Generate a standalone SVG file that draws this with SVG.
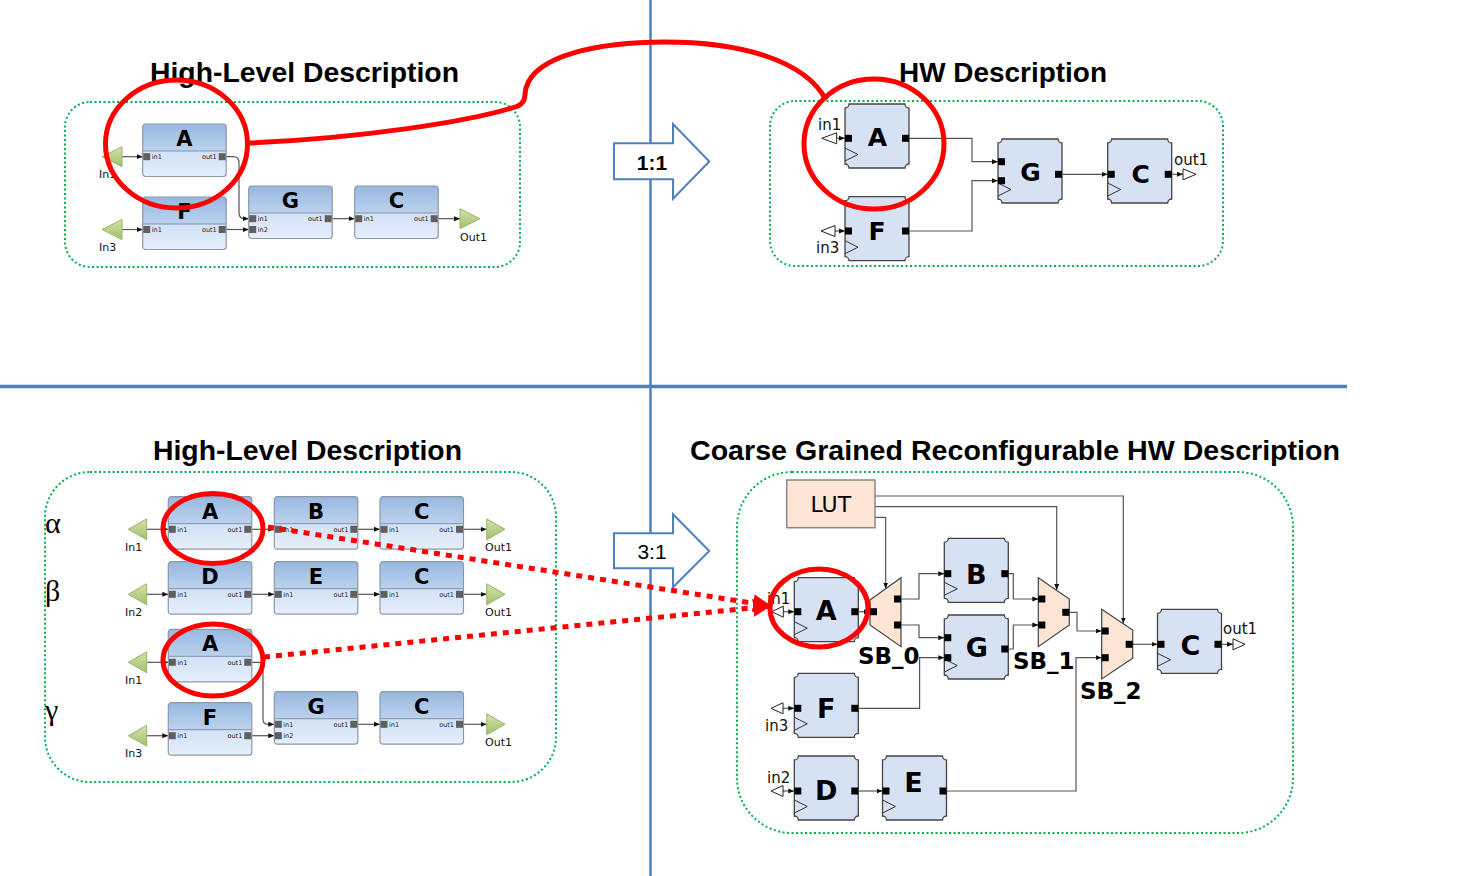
<svg xmlns="http://www.w3.org/2000/svg" width="1458" height="876" viewBox="0 0 1458 876">
<defs>
<linearGradient id="sbHead" x1="0" y1="0" x2="0" y2="1"><stop offset="0" stop-color="#98b8df"/><stop offset="1" stop-color="#bcd2ee"/></linearGradient>
<linearGradient id="sbBody" x1="0" y1="0" x2="0" y2="1"><stop offset="0" stop-color="#bcd3f0"/><stop offset="1" stop-color="#e6effb"/></linearGradient>
<linearGradient id="tri" x1="0" y1="0" x2="0" y2="1"><stop offset="0" stop-color="#d3e3ab"/><stop offset="1" stop-color="#a3bf6b"/></linearGradient>
<marker id="ar" markerWidth="6" markerHeight="6" refX="6" refY="3" orient="auto" markerUnits="userSpaceOnUse"><path d="M0,0.5 L6,3 L0,5.5 Z" fill="#111"/></marker>
<marker id="rar" markerWidth="20" markerHeight="18" refX="18" refY="9" orient="auto" markerUnits="userSpaceOnUse"><path d="M0,0 L18,9 L0,18 Z" fill="#ff0000"/></marker>
<g id="simBody">
<rect width="83.5" height="52.5" rx="3" fill="url(#sbBody)"/>
<path d="M0,27 V3 Q0,0 3,0 H80.5 Q83.5,0 83.5,3 V27 Z" fill="url(#sbHead)"/>
<line x1="0" y1="27" x2="83.5" y2="27" stroke="#7f93ad" stroke-width="1"/>
<rect width="83.5" height="52.5" rx="3" fill="none" stroke="#8c99a8" stroke-width="1.2"/>
</g>
<g id="hwBody">
<path d="M4,0 H60 A4,4 0 0 0 64,4 V60 A4,4 0 0 0 60,64 H4 A4,4 0 0 0 0,60 V4 A4,4 0 0 0 4,0 Z" fill="#d6e2f4" stroke="#444" stroke-width="1.3"/>
<path d="M0,44 L13,50.5 L0,57" fill="none" stroke="#333" stroke-width="1"/>
</g>
</defs>
<style>
.title{font-family:"Liberation Sans",Arial,sans-serif;font-weight:bold;font-size:27px;fill:#000}
.green{fill:none;stroke:#00b050;stroke-width:2;stroke-dasharray:2 2.5}
.sep{stroke:#4f81bd;fill:none}
.red{fill:none;stroke:#ff0000;stroke-width:5}
.reddot{fill:none;stroke:#ff0000;stroke-width:5;stroke-dasharray:6 6}
.sl{font-family:"DejaVu Sans",sans-serif;font-weight:bold;font-size:21px;text-anchor:middle;fill:#000}
.pl{font-family:"DejaVu Sans",sans-serif;font-size:6.5px;fill:#222}
.ple{font-family:"DejaVu Sans",sans-serif;font-size:6.5px;fill:#222;text-anchor:end}
.io{font-family:"DejaVu Sans",sans-serif;font-size:11px;fill:#111}
.sp{fill:#5f5f5f}
.w{fill:none;stroke:#555;stroke-width:1.2}
.wa{fill:none;stroke:#555;stroke-width:1.2;marker-end:url(#ar)}
.hp{fill:#000}
.hl{font-family:"DejaVu Sans",sans-serif;font-weight:bold;font-size:27px;text-anchor:middle;fill:#000}
.hl2{font-family:"DejaVu Sans",sans-serif;font-weight:bold;font-size:25px;text-anchor:middle;fill:#000}
.hio{font-family:"DejaVu Sans",sans-serif;font-size:15px;fill:#111}
.htri{fill:#fff;stroke:#222;stroke-width:1}
.mux{fill:#fde5d5;stroke:#444;stroke-width:1.2}
.sbl{font-family:"DejaVu Sans",sans-serif;font-weight:bold;font-size:23px;fill:#000}
.gtri{fill:url(#tri);stroke:#9ab46a;stroke-width:1}
.greek{font-family:"Liberation Serif","DejaVu Serif",serif;font-size:30px;fill:#000}
.arrowbox{fill:#fff;stroke:#4f81bd;stroke-width:2}
.ratio{font-family:"Liberation Sans",Arial,sans-serif;font-size:21px;text-anchor:middle;fill:#000}
</style>

<!-- separators -->
<g id="separators">
<line class="sep" x1="650.5" y1="0" x2="650.5" y2="876" stroke-width="2.5"/>
<line class="sep" x1="0" y1="386.5" x2="1347" y2="386.5" stroke-width="3.5"/>
</g>

<!-- titles -->
<g id="titles">
<text class="title" x="150" y="82" textLength="309" lengthAdjust="spacingAndGlyphs">High-Level Description</text>
<text class="title" x="899" y="82" textLength="208" lengthAdjust="spacingAndGlyphs">HW Description</text>
<text class="title" x="153" y="460" textLength="309" lengthAdjust="spacingAndGlyphs">High-Level Description</text>
<text class="title" x="690" y="460" textLength="650" lengthAdjust="spacingAndGlyphs">Coarse Grained Reconfigurable HW Description</text>
</g>

<!-- green containers -->
<g id="containers">
<rect class="green" x="65" y="102" width="455" height="165" rx="25"/>
<rect class="green" x="770" y="101" width="453" height="165" rx="25"/>
<rect class="green" x="45" y="472" width="511" height="310" rx="45"/>
<rect class="green" x="737" y="472" width="556" height="361" rx="55"/>
</g>

<!-- ratio arrows -->
<g id="arrow-1to1">
<path class="arrowbox" d="M614,143.3 H673 V124 L709.3,161.5 L673,198.7 V179.3 H614 Z"/>
<text class="ratio" x="652" y="170" font-weight="bold">1:1</text>
</g>
<g id="arrow-3to1">
<path class="arrowbox" d="M614,533.3 H673 V514.3 L709.3,551 L673,587.3 V568.3 H614 Z"/>
<text class="ratio" x="652" y="558.5">3:1</text>
</g>

<!-- ===== TOP LEFT ===== -->
<g id="tl-connectors">
<line class="wa" x1="122" y1="156.7" x2="142.7" y2="156.7"/>
<line class="wa" x1="122" y1="229.5" x2="142.7" y2="229.5"/>
<path class="wa" d="M226,156.7 H233 Q239,156.7 239,162.7 V212.7 Q239,218.7 245,218.7 H248.7"/>
<line class="wa" x1="226" y1="229.5" x2="248.7" y2="229.5"/>
<line class="wa" x1="332.2" y1="218.7" x2="354.7" y2="218.7"/>
<line class="wa" x1="438.2" y1="218.7" x2="460" y2="218.7"/>
</g>
<g id="tl-In1"><polygon class="gtri" points="102,156.7 122,146.7 122,166.7"/><text class="io" x="99" y="178">In1</text></g>
<g id="tl-In3"><polygon class="gtri" points="102,229.5 122,219.5 122,239.5"/><text class="io" x="99" y="251">In3</text></g>
<g id="tl-Out1"><polygon class="gtri" points="480,218.7 460,208.7 460,228.7"/><text class="io" x="460" y="241">Out1</text></g>
<g id="tl-A" transform="translate(142.7,124)"><use href="#simBody"/><text class="sl" x="41.75" y="22">A</text>
<rect class="sp" x="0.5" y="29.2" width="7" height="7"/><text class="pl" x="9" y="35">in1</text>
<rect class="sp" x="76" y="29.2" width="7" height="7"/><text class="ple" x="74" y="35">out1</text></g>
<g id="tl-F" transform="translate(142.7,197)"><use href="#simBody"/><text class="sl" x="41.75" y="22">F</text>
<rect class="sp" x="0.5" y="29" width="7" height="7"/><text class="pl" x="9" y="34.8">in1</text>
<rect class="sp" x="76" y="29" width="7" height="7"/><text class="ple" x="74" y="34.8">out1</text></g>
<g id="tl-G" transform="translate(248.7,186)"><use href="#simBody"/><text class="sl" x="41.75" y="22">G</text>
<rect class="sp" x="0.5" y="29.2" width="7" height="7"/><text class="pl" x="9" y="35">in1</text>
<rect class="sp" x="0.5" y="40" width="7" height="7"/><text class="pl" x="9" y="45.8">in2</text>
<rect class="sp" x="76" y="29.2" width="7" height="7"/><text class="ple" x="74" y="35">out1</text></g>
<g id="tl-C" transform="translate(354.7,186)"><use href="#simBody"/><text class="sl" x="41.75" y="22">C</text>
<rect class="sp" x="0.5" y="29.2" width="7" height="7"/><text class="pl" x="9" y="35">in1</text>
<rect class="sp" x="76" y="29.2" width="7" height="7"/><text class="ple" x="74" y="35">out1</text></g>

<!-- ===== TOP RIGHT ===== -->
<g id="tr-connectors">
<line class="wa" x1="836.7" y1="138.3" x2="845" y2="138.3"/>
<line class="wa" x1="835" y1="231" x2="845" y2="231"/>
<path class="wa" d="M909,138.3 H972 V161.7 H998"/>
<path class="wa" d="M909,231 H972 V180.7 H998"/>
<line class="wa" x1="1062" y1="174.3" x2="1107.7" y2="174.3"/>
<line class="wa" x1="1171.7" y1="174.3" x2="1183" y2="174.3"/>
</g>
<g id="tr-in1"><polygon class="htri" points="821.7,138.3 836.7,132.8 836.7,143.8"/><text class="hio" x="818" y="130">in1</text></g>
<g id="tr-in3"><polygon class="htri" points="821,231 835,225.5 835,236.5"/><text class="hio" x="816" y="253">in3</text></g>
<g id="tr-out1"><polygon class="htri" points="1196,174.3 1183,168.8 1183,179.8"/><text class="hio" x="1174" y="165">out1</text></g>
<g id="tr-A" transform="translate(845,104)"><use href="#hwBody"/><text class="hl2" x="32.5" y="42">A</text>
<rect class="hp" y="30.8" width="7" height="7"/><rect class="hp" x="57" y="30.8" width="7" height="7"/></g>
<g id="tr-F" transform="translate(845,196.7)"><use href="#hwBody"/><text class="hl2" x="32" y="43.5">F</text>
<rect class="hp" y="30.8" width="7" height="7"/><rect class="hp" x="57" y="30.8" width="7" height="7"/></g>
<g id="tr-G" transform="translate(998,139)"><use href="#hwBody"/><text class="hl2" x="32.5" y="42">G</text>
<rect class="hp" y="19.2" width="7" height="7"/><rect class="hp" y="38.2" width="7" height="7"/><rect class="hp" x="57" y="31.8" width="7" height="7"/></g>
<g id="tr-C" transform="translate(1107.7,139)"><use href="#hwBody"/><text class="hl2" x="33" y="44">C</text>
<rect class="hp" y="31.8" width="7" height="7"/><rect class="hp" x="57" y="31.8" width="7" height="7"/></g>

<!-- ===== BOTTOM LEFT ===== -->
<g id="bl-greek">
<text class="greek" x="45" y="533">α</text>
<text class="greek" x="45" y="601">β</text>
<text class="greek" x="45" y="720">γ</text>
</g>
<g id="bl-connectors">
<line class="wa" x1="146.7" y1="529.3" x2="168.3" y2="529.3"/>
<line class="wa" x1="252" y1="529.3" x2="274.3" y2="529.3"/>
<line class="wa" x1="357.8" y1="529.3" x2="380" y2="529.3"/>
<line class="wa" x1="463.5" y1="529.3" x2="486.7" y2="529.3"/>
<line class="wa" x1="146.7" y1="594.3" x2="168.3" y2="594.3"/>
<line class="wa" x1="252" y1="594.3" x2="274.3" y2="594.3"/>
<line class="wa" x1="357.8" y1="594.3" x2="380" y2="594.3"/>
<line class="wa" x1="463.5" y1="594.3" x2="486.7" y2="594.3"/>
<line class="wa" x1="146.7" y1="662.3" x2="168.3" y2="662.3"/>
<path class="wa" d="M252,662.3 H258 Q263,662.3 263,667.3 V719.3 Q263,724.3 268,724.3 H274.3"/>
<line class="wa" x1="146.7" y1="735.7" x2="168.3" y2="735.7"/>
<line class="wa" x1="252" y1="735.7" x2="274.3" y2="735.7"/>
<line class="wa" x1="357.8" y1="724.3" x2="380" y2="724.3"/>
<line class="wa" x1="463.5" y1="724.3" x2="486.7" y2="724.3"/>
</g>
<g id="bl-In1a"><polygon class="gtri" points="128.3,529.3 146.7,518.8 146.7,539.8"/><text class="io" x="125" y="551">In1</text></g>
<g id="bl-Out1a"><polygon class="gtri" points="505,529.3 486.7,518.8 486.7,539.8"/><text class="io" x="485" y="551">Out1</text></g>
<g id="bl-In2"><polygon class="gtri" points="128.3,594.3 146.7,583.8 146.7,604.8"/><text class="io" x="125" y="616">In2</text></g>
<g id="bl-Out1b"><polygon class="gtri" points="505,594.3 486.7,583.8 486.7,604.8"/><text class="io" x="485" y="616">Out1</text></g>
<g id="bl-In1c"><polygon class="gtri" points="128.3,662.3 146.7,651.8 146.7,672.8"/><text class="io" x="125" y="684">In1</text></g>
<g id="bl-In3"><polygon class="gtri" points="128.3,735.7 146.7,725.2 146.7,746.2"/><text class="io" x="125" y="757">In3</text></g>
<g id="bl-Out1c"><polygon class="gtri" points="505,724.3 486.7,713.8 486.7,734.8"/><text class="io" x="485" y="746">Out1</text></g>

<g id="bl-A1" transform="translate(168.3,496.7)"><use href="#simBody"/><text class="sl" x="41.75" y="22">A</text>
<rect class="sp" x="0.5" y="29.1" width="7" height="7"/><text class="pl" x="9" y="34.9">in1</text>
<rect class="sp" x="76" y="29.1" width="7" height="7"/><text class="ple" x="74" y="34.9">out1</text></g>
<g id="bl-B" transform="translate(274.3,496.7)"><use href="#simBody"/><text class="sl" x="41.75" y="22">B</text>
<rect class="sp" x="0.5" y="29.1" width="7" height="7"/><text class="pl" x="9" y="34.9">in1</text>
<rect class="sp" x="76" y="29.1" width="7" height="7"/><text class="ple" x="74" y="34.9">out1</text></g>
<g id="bl-C1" transform="translate(380,496.7)"><use href="#simBody"/><text class="sl" x="41.75" y="22">C</text>
<rect class="sp" x="0.5" y="29.1" width="7" height="7"/><text class="pl" x="9" y="34.9">in1</text>
<rect class="sp" x="76" y="29.1" width="7" height="7"/><text class="ple" x="74" y="34.9">out1</text></g>
<g id="bl-D" transform="translate(168.3,561.7)"><use href="#simBody"/><text class="sl" x="41.75" y="22">D</text>
<rect class="sp" x="0.5" y="29.1" width="7" height="7"/><text class="pl" x="9" y="34.9">in1</text>
<rect class="sp" x="76" y="29.1" width="7" height="7"/><text class="ple" x="74" y="34.9">out1</text></g>
<g id="bl-E" transform="translate(274.3,561.7)"><use href="#simBody"/><text class="sl" x="41.75" y="22">E</text>
<rect class="sp" x="0.5" y="29.1" width="7" height="7"/><text class="pl" x="9" y="34.9">in1</text>
<rect class="sp" x="76" y="29.1" width="7" height="7"/><text class="ple" x="74" y="34.9">out1</text></g>
<g id="bl-C2" transform="translate(380,561.7)"><use href="#simBody"/><text class="sl" x="41.75" y="22">C</text>
<rect class="sp" x="0.5" y="29.1" width="7" height="7"/><text class="pl" x="9" y="34.9">in1</text>
<rect class="sp" x="76" y="29.1" width="7" height="7"/><text class="ple" x="74" y="34.9">out1</text></g>
<g id="bl-A2" transform="translate(168.3,629.3)"><use href="#simBody"/><text class="sl" x="41.75" y="22">A</text>
<rect class="sp" x="0.5" y="29.5" width="7" height="7"/><text class="pl" x="9" y="35.3">in1</text>
<rect class="sp" x="76" y="29.5" width="7" height="7"/><text class="ple" x="74" y="35.3">out1</text></g>
<g id="bl-F" transform="translate(168.3,702.7)"><use href="#simBody"/><text class="sl" x="41.75" y="22">F</text>
<rect class="sp" x="0.5" y="29.5" width="7" height="7"/><text class="pl" x="9" y="35.3">in1</text>
<rect class="sp" x="76" y="29.5" width="7" height="7"/><text class="ple" x="74" y="35.3">out1</text></g>
<g id="bl-G" transform="translate(274.3,691.7)"><use href="#simBody"/><text class="sl" x="41.75" y="22">G</text>
<rect class="sp" x="0.5" y="29.1" width="7" height="7"/><text class="pl" x="9" y="34.9">in1</text>
<rect class="sp" x="0.5" y="40.5" width="7" height="7"/><text class="pl" x="9" y="46.3">in2</text>
<rect class="sp" x="76" y="29.1" width="7" height="7"/><text class="ple" x="74" y="34.9">out1</text></g>
<g id="bl-C3" transform="translate(380,691.7)"><use href="#simBody"/><text class="sl" x="41.75" y="22">C</text>
<rect class="sp" x="0.5" y="29.1" width="7" height="7"/><text class="pl" x="9" y="34.9">in1</text>
<rect class="sp" x="76" y="29.1" width="7" height="7"/><text class="ple" x="74" y="34.9">out1</text></g>

<!-- ===== BOTTOM RIGHT ===== -->
<g id="br-connectors">
<path class="wa" d="M875,496 H1123.3 V623.5"/>
<path class="wa" d="M875,506.7 H1056.7 V590"/>
<path class="wa" d="M875,517.3 H885.7 V588.5"/>
<line class="wa" x1="783.3" y1="611.7" x2="794.3" y2="611.7"/>
<line class="wa" x1="857.7" y1="611.7" x2="870" y2="611.7"/>
<path class="wa" d="M901,599 H919 V573.7 H944.3"/>
<path class="wa" d="M901,625 H919 V637.7 H944.3"/>
<path class="wa" d="M857.7,708.3 H919.6 V657.7 H944.3"/>
<path class="wa" d="M1008.3,573.7 H1013.3 V599 H1038.3"/>
<path class="wa" d="M1008.3,649 H1013.3 V625 H1038.3"/>
<path class="wa" d="M1069.3,612.3 H1077 V631 H1101.7"/>
<path class="wa" d="M946,791 H1076 V657.7 H1101.7"/>
<line class="wa" x1="1132.7" y1="644.3" x2="1157.5" y2="644.3"/>
<line class="wa" x1="858.3" y1="791" x2="882.5" y2="791"/>
<line class="wa" x1="783" y1="708.3" x2="794.3" y2="708.3"/>
<line class="wa" x1="783" y1="791" x2="794.3" y2="791"/>
<line class="wa" x1="1221.5" y1="644.3" x2="1233" y2="644.3"/>
</g>
<g id="br-LUT"><rect x="786.7" y="480" width="88.3" height="47.7" fill="#fde5d5" stroke="#888" stroke-width="1.5"/><text x="830.8" y="512" font-family="DejaVu Sans, sans-serif" font-size="22" text-anchor="middle">LUT</text></g>
<g id="br-in1"><polygon class="htri" points="771.7,611.7 783.3,606.2 783.3,617.2"/><text class="hio" x="767" y="604">in1</text></g>
<g id="br-in3"><polygon class="htri" points="771,708.3 783,702.8 783,713.8"/><text class="hio" x="765" y="731">in3</text></g>
<g id="br-in2"><polygon class="htri" points="771,791 783,785.5 783,796.5"/><text class="hio" x="767" y="783">in2</text></g>
<g id="br-out1"><polygon class="htri" points="1245,644.3 1233,638.8 1233,649.8"/><text class="hio" x="1223" y="634">out1</text></g>
<g id="br-A" transform="translate(794.3,577.7)"><use href="#hwBody"/><text class="hl" x="32" y="42.5">A</text>
<rect class="hp" y="30.5" width="7" height="7"/><rect class="hp" x="57" y="30.5" width="7" height="7"/></g>
<g id="br-B" transform="translate(944.3,538.3)"><use href="#hwBody"/><text class="hl" x="32" y="45.5">B</text>
<rect class="hp" y="31.9" width="7" height="7"/><rect class="hp" x="57" y="31.9" width="7" height="7"/></g>
<g id="br-G" transform="translate(944.3,615)"><use href="#hwBody"/><text class="hl" x="32.5" y="42">G</text>
<rect class="hp" y="19.2" width="7" height="7"/><rect class="hp" y="39.2" width="7" height="7"/><rect class="hp" x="57" y="30.5" width="7" height="7"/></g>
<g id="br-C" transform="translate(1157.5,609.3)"><use href="#hwBody"/><text class="hl" x="33" y="45.5">C</text>
<rect class="hp" y="31.5" width="7" height="7"/><rect class="hp" x="57" y="31.5" width="7" height="7"/></g>
<g id="br-F" transform="translate(794.3,673.3)"><use href="#hwBody"/><text class="hl" x="32" y="45">F</text>
<rect class="hp" y="31.5" width="7" height="7"/><rect class="hp" x="57" y="31.5" width="7" height="7"/></g>
<g id="br-D" transform="translate(794.3,756)"><use href="#hwBody"/><text class="hl" x="32" y="44">D</text>
<rect class="hp" y="31.5" width="7" height="7"/><rect class="hp" x="57" y="31.5" width="7" height="7"/></g>
<g id="br-E" transform="translate(882.5,756)"><use href="#hwBody"/><text class="hl" x="31" y="36">E</text>
<rect class="hp" y="31.5" width="7" height="7"/><rect class="hp" x="57" y="31.5" width="7" height="7"/></g>
<g id="br-SB0"><polygon class="mux" points="870,600 901,577.7 901,646.7 870,625"/>
<rect class="hp" x="870" y="608.2" width="7" height="7"/><rect class="hp" x="894" y="595.5" width="7" height="7"/><rect class="hp" x="894" y="621.5" width="7" height="7"/>
<text class="sbl" x="858" y="664">SB_0</text></g>
<g id="br-SB1"><polygon class="mux" points="1038.3,577.7 1069.3,599 1069.3,625 1038.3,646.7"/>
<rect class="hp" x="1038.3" y="595.5" width="7" height="7"/><rect class="hp" x="1038.3" y="621.5" width="7" height="7"/><rect class="hp" x="1062.3" y="608.8" width="7" height="7"/>
<text class="sbl" x="1013" y="669">SB_1</text></g>
<g id="br-SB2"><polygon class="mux" points="1101.7,609.3 1132.7,630 1132.7,658.3 1101.7,679"/>
<rect class="hp" x="1101.7" y="627.5" width="7" height="7"/><rect class="hp" x="1101.7" y="654.2" width="7" height="7"/><rect class="hp" x="1125.7" y="640.8" width="7" height="7"/>
<text class="sbl" x="1080" y="699">SB_2</text></g>

<!-- ===== RED HIGHLIGHTS ===== -->
<g id="highlights">
<ellipse class="red" cx="176.5" cy="144" rx="71" ry="64"/>
<ellipse class="red" cx="874" cy="144" rx="70" ry="65"/>
<path class="red" d="M250,143 C360,138 470,122 518,106 C527,101 524,95 526,88 C535,55 600,42 665,42 C740,42 805,60 826,100"/>
<ellipse class="red" cx="213" cy="528.5" rx="50" ry="35"/>
<ellipse class="red" cx="213" cy="660" rx="50" ry="36"/>
<ellipse class="red" cx="819" cy="608" rx="49" ry="39"/>
<line class="reddot" x1="268" y1="527" x2="771" y2="606" marker-end="url(#rar)"/>
<line class="reddot" x1="264" y1="657" x2="771" y2="606" marker-end="url(#rar)"/>
</g>
</svg>
